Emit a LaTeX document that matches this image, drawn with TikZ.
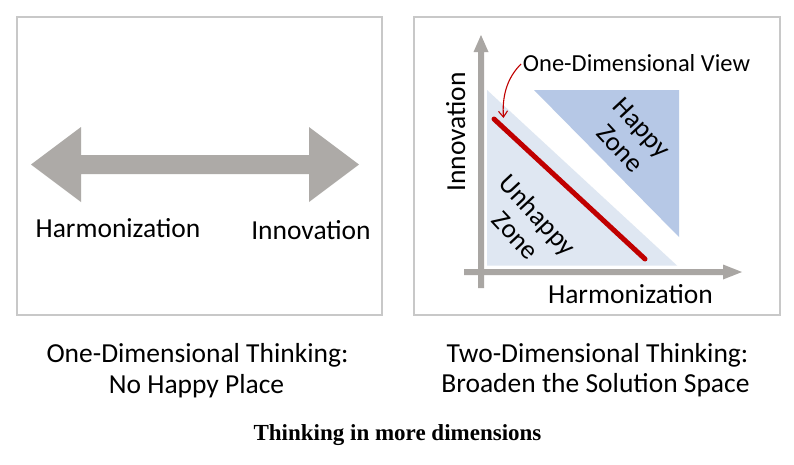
\documentclass[tikz,border=0pt]{standalone}
\usepackage{fontspec}
\setmainfont{Carlito}
\newfontfamily\capfont{Liberation Serif}
\usetikzlibrary{arrows.meta}
\definecolor{boxgray}{HTML}{C8C8C8}
\definecolor{arrowgray}{HTML}{ADAAA7}
\definecolor{axisgray}{HTML}{A9A6A3}
\definecolor{lightblue}{HTML}{DFE7F2}
\definecolor{darkblue}{HTML}{B6C8E6}
\definecolor{lineRed}{HTML}{C00000}
\tikzset{
  panel/.style={draw=boxgray, line width=1.6pt},
  lbl/.style={inner sep=0pt, anchor=base, font=\fontsize{27.5}{30}\selectfont},
  smalllbl/.style={inner sep=0pt, anchor=base, font=\fontsize{24.5}{28}\selectfont},
  zonelbl/.style={inner sep=0pt, align=center, rotate=-47, font=\fontsize{27}{30}\selectfont},
  caplbl/.style={inner sep=0pt, anchor=base, font=\capfont\bfseries\fontsize{23}{26}\selectfont}
}
\begin{document}
\begin{tikzpicture}[x=1pt,y=-1pt]
\useasboundingbox (0,0) rectangle (794,464);
\fill[white] (0,0) rectangle (794,464);
% left panel
\draw[panel] (17,17) rectangle (382,315);
\fill[arrowgray] (31,164.5) -- (81,127) -- (81,155) -- (309,155) -- (309,127) -- (359,164.5)
  -- (309,202) -- (309,174) -- (81,174) -- (81,202) -- cycle;
\node[lbl] (lh) at (118,237) {Harmonization};
\node[lbl] (li) at (311,239) {Innovation};
% right panel
\draw[panel] (414,17) rectangle (780,315);
\fill[lightblue] (487,90) -- (677,265.5) -- (487,265.5) -- cycle;
\fill[darkblue] (534,90) -- (679,90) -- (679,237) -- cycle;
% axes
\fill[axisgray] (478,288) -- (478,52) -- (473.5,52) -- (481,35) -- (488.5,52) -- (484,52) -- (484,288) -- cycle;
\fill[axisgray] (464,269) -- (723,269) -- (723,264.5) -- (742,272) -- (723,279.5) -- (723,275) -- (464,275) -- cycle;
% red line
\coordinate (ra) at (494,119);
\coordinate (rb) at (645,259);
\draw[lineRed, line width=5pt, line cap=round] (ra) -- (rb);
\node[smalllbl] (view) at (636.5,71) {One-Dimensional View};
\coordinate (cs) at (521,64);
\coordinate (ce) at (503.5,118);
\draw[lineRed, line width=1.1pt, -{Straight Barb[length=6pt,width=9pt]}] (cs) .. controls (507,78) and (502,96) .. (ce);
% axis labels
\node[lbl, rotate=90] (vi) at (465,132) {Innovation};
\node[lbl] (rh) at (630.5,303) {Harmonization};
% zones
\node[zonelbl] (hz) at (631,138) {Happy\\Zone};
\node[zonelbl] (uz) at (527,225) {Unhappy\\Zone};
% captions
\node[lbl] (c1a) at (197.5,362) {One-Dimensional Thinking:};
\node[lbl] (c1b) at (196.5,393) {No Happy Place};
\node[lbl] (c2a) at (597.5,362) {Two-Dimensional Thinking:};
\node[lbl] (c2b) at (595.5,392) {Broaden the Solution Space};
\node[caplbl] (cap) at (397.5,440) {Thinking in more dimensions};
\end{tikzpicture}
\end{document}
